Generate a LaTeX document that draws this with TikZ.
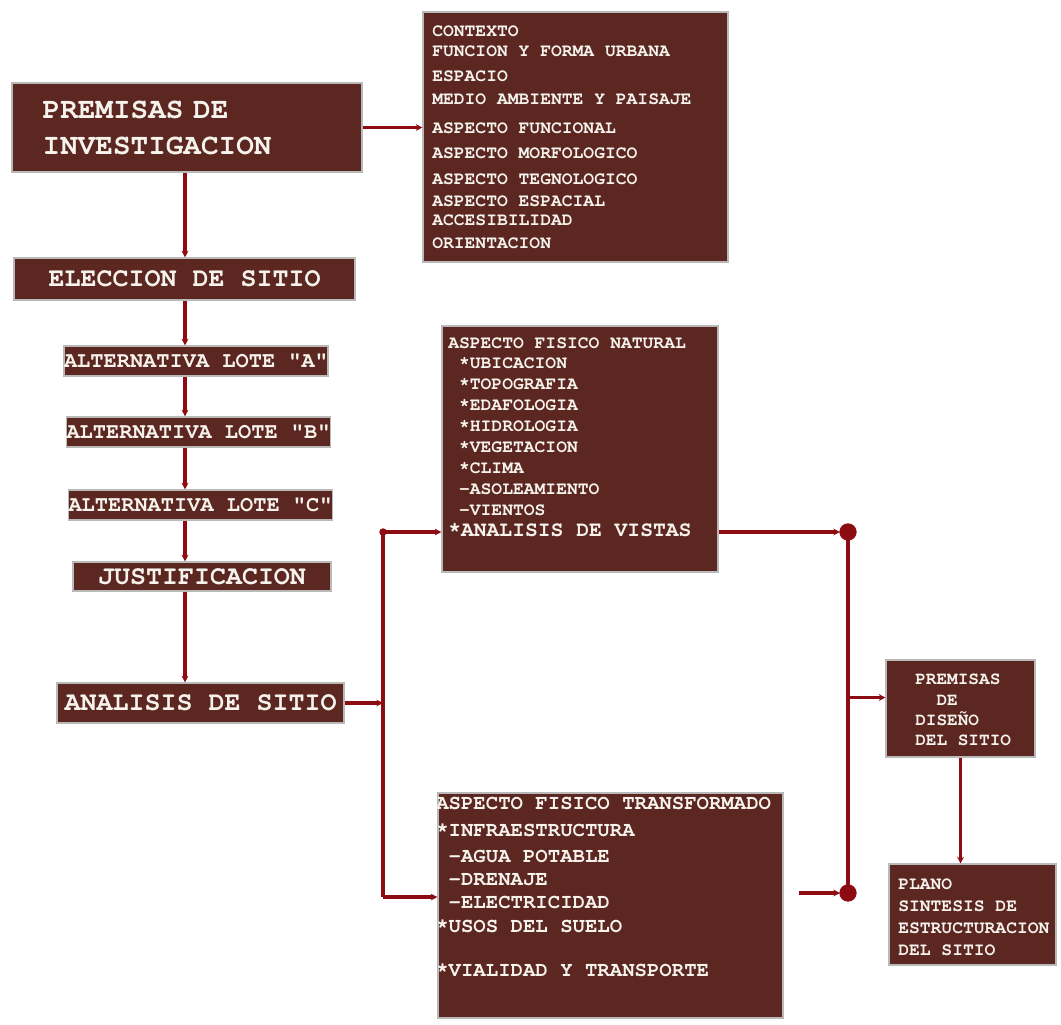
\documentclass[tikz,border=0pt]{standalone}
\usepackage{fontspec}
\setmonofont{texgyrecursor}[Extension=.otf, UprightFont=*-regular, BoldFont=*-bold]
\usetikzlibrary{arrows.meta}

\definecolor{boxred}{RGB}{92,38,33}
\definecolor{linered}{RGB}{140,12,18}
\definecolor{txtwhite}{RGB}{246,242,236}
\newcommand{\boxfont}[2]{\ttfamily\bfseries\fontsize{#1}{#2}\selectfont}

\tikzset{
	box/.style={draw=gray!55, line width=0.8pt, fill=boxred, text=txtwhite, inner sep=0pt},
	boxtxt/.style={text=txtwhite, inner sep=0pt, align=left, anchor=north west},
	arr/.style={-{Stealth[length=5pt,width=5pt]}, linered, line width=2.6pt},
	link/.style={linered, line width=2.6pt},
}

\begin{document}
\begin{tikzpicture}[x=0.75pt, y=-0.75pt]
			\useasboundingbox (0,0) rectangle (1061,1025);
			
			% left column
			\node[box, minimum width=262.5pt, minimum height=66.75pt, inner xsep=23pt, text width=216.5pt, align=left, font=\boxfont{22}{27}] (premisa) at (187,127.5) {PREMISAS DE\\INVESTIGACION};
			\node[box, minimum width=255.75pt, minimum height=31.5pt, font=\boxfont{20}{24}] (eleccion) at (184.5,279) {ELECCION DE SITIO};
			\node[box, minimum width=193.5pt, minimum height=22.5pt, font=\boxfont{16.5}{20}] (loteA) at (196,361) {ALTERNATIVA LOTE "A"};
			\node[box, minimum width=193.5pt, minimum height=22.5pt, font=\boxfont{16.5}{20}] (loteB) at (198.5,432) {ALTERNATIVA LOTE "B"};
			\node[box, minimum width=193.5pt, minimum height=22.5pt, font=\boxfont{16.5}{20}] (loteC) at (200.5,505) {ALTERNATIVA LOTE "C"};
			\node[box, minimum width=193.5pt, minimum height=21.75pt, font=\boxfont{20}{24}] (justif) at (202,576.5) {JUSTIFICACION};
			\node[box, minimum width=215.25pt, minimum height=30pt, font=\boxfont{20}{24}] (analisis) at (200.5,703) {ANALISIS DE SITIO};
			
			% premisas de investigacion
			\node[box, minimum width=228.75pt, minimum height=187.5pt] (contexto) at (575.5,137) {};
			\node[boxtxt, font=\boxfont{13.5}{15}] (contextotxt) at (432,25) {CONTEXTO\\FUNCION Y FORMA URBANA\\[3.75pt]ESPACIO\\[2.25pt]MEDIO AMBIENTE Y PAISAJE\\[6.75pt]ASPECTO FUNCIONAL\\[3.75pt]ASPECTO MORFOLOGICO\\[4.5pt]ASPECTO TEGNOLOGICO\\[1.5pt]ASPECTO ESPACIAL\\[-0.75pt]ACCESIBILIDAD\\[2.25pt]ORIENTACION};
			
			% analisis de sitio
			\node[box, minimum width=207pt, minimum height=184.5pt] (natural) at (580,449) {};
			\node[boxtxt, font=\boxfont{13.5}{15.7}] (naturaltxt) at (448,337) {ASPECTO FISICO NATURAL\\~*UBICACION\\~*TOPOGRAFIA\\~*EDAFOLOGIA\\~*HIDROLOGIA\\~*VEGETACION\\~*CLIMA\\~-ASOLEAMIENTO\\~-VIENTOS\\{\fontsize{16}{15.7}\selectfont *ANALISIS DE VISTAS}};
			
			\node[box, minimum width=258.75pt, minimum height=168.75pt] (transform) at (610.5,905.5) {};
			\node[boxtxt, font=\boxfont{15.5}{18}] (transformtxt) at (436,797) {ASPECTO FISICO TRANSFORMADO\\[2.25pt]*INFRAESTRUCTURA\\[1.5pt]~-AGUA POTABLE\\[-0.75pt]~-DRENAJE\\[-0.75pt]~-ELECTRICIDAD\\*USOS DEL SUELO\\[15pt]*VIALIDAD Y TRANSPORTE};
			
			% premisas de diseno
			\node[box, minimum width=111.75pt, minimum height=72.75pt] (diseno) at (960.5,708.5) {};
			\node[boxtxt, font=\boxfont{13.3}{15.2}] (disenotxt) at (915,674) {PREMISAS\\~~DE\\DISEÑO\\DEL SITIO};
			
			\node[box, minimum width=125.25pt, minimum height=75.75pt] (plano) at (972.5,914.5) {};
			\node[boxtxt, font=\boxfont{13.5}{16.5}] (planotxt) at (898,878) {PLANO\\SINTESIS DE\\ESTRUCTURACION\\DEL SITIO};
			
			% connectors
			\coordinate (spine) at (185,0);
			\coordinate (splitN) at (383,532);
			\coordinate (splitS) at (383,897);
			\coordinate (joinN) at (848,532);
			\coordinate (joinS) at (848,893);
			
			\draw[arr] (premisa.east) -- (premisa.east -| contexto.west);
			\foreach \a/\b in {premisa/eleccion, eleccion/loteA, loteA/loteB, loteB/loteC, loteC/justif, justif/analisis}{
				\draw[arr] (\a.south -| spine) -- (\b.north -| spine);
			}
			
			\draw[arr] (analisis.east) -- (analisis.east -| splitN);
			\draw[link] (splitN) -- (splitS);
			\fill[linered] (splitN) circle (2.8pt);
			\draw[arr] (splitN) -- (splitN -| natural.west);
			\draw[arr] (splitS) -- (splitS -| transform.west);
			
			\draw[link] (joinN) -- (joinS);
			\draw[arr, shorten >=6pt] (natural.east |- joinN) -- (joinN);
			\path (transform.east |- joinS) ++(15,0) coordinate (tout);
			\draw[arr, shorten >=6pt] (tout) -- (joinS);
			\fill[linered] (joinN) circle (6.5pt);
			\fill[linered] (joinS) circle (6.5pt);
			
			\path (diseno.west) ++(0,-11) coordinate (dIn);
			\draw[arr] (dIn -| joinN) -- (dIn);
			\draw[arr] (diseno.south) -- (diseno.south |- plano.north);
			
		\end{tikzpicture}
\end{document}
